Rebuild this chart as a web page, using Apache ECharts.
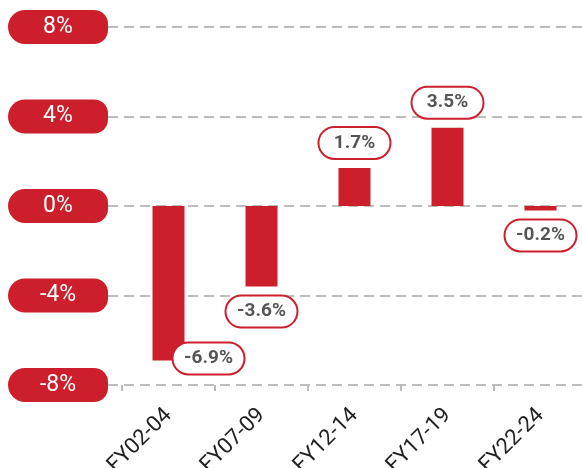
<!DOCTYPE html>
<html>
<head>
<meta charset="utf-8">
<script src="https://cdn.jsdelivr.net/npm/echarts@6/dist/echarts.min.js"></script>
<style>
  html, body { margin: 0; padding: 0; background: #fff; }
  #main { width: 582px; height: 468px; }
</style>
</head>
<body>
<div id="main"></div>
<script>
// data
var periods = ['FY02-04', 'FY07-09', 'FY12-14', 'FY17-19', 'FY22-24']
var growth = [-6.9, -3.6, 1.7, 3.5, -0.2]
var yTicks = [-8, -4, 0, 4, 8]

var red = '#cc1f2b'

var chart = echarts.init(document.getElementById('main'))

// value labels: pill with red border
var barData = growth.map(function (v, i) {
    var item = { value: v }
    if (i === 0) {
        // first label sits to the right of the bar end
        item.label = { position: 'bottom', offset: [40, -27] }
    }
    return item
})

var option = {
    animation: false,
    grid: [
        { left: 108, right: 0, top: 27, height: 358, outerBoundsMode: 'none' },
        { left: 122, width: 465, top: 27, height: 358, outerBoundsMode: 'none' }
    ],
    xAxis: [
        { type: 'category', gridIndex: 0, data: periods, show: false },
        {
            type: 'category',
            gridIndex: 1,
            data: periods,
            axisLine: { show: false, onZero: false },
            axisTick: { show: true, length: 6, lineStyle: { color: '#bbb', width: 2 } },
            axisLabel: {
                rotate: 45,
                margin: 27,
                color: '#222',
                fontSize: 22,
                fontFamily: 'Roboto'
            }
        }
    ],
    yAxis: [
        {
            type: 'value',
            gridIndex: 0,
            min: yTicks[0],
            max: yTicks[yTicks.length - 1],
            interval: 4,
            axisLine: { show: false },
            axisTick: { show: false },
            splitLine: { lineStyle: { color: '#bdbdbd', width: 2, type: [10, 6] } },
            axisLabel: {
                margin: 0,
                fontSize: 23,
                color: '#fff',
                formatter: '{a|{value}%}',
                rich: {
                    a: {
                        backgroundColor: red,
                        borderRadius: [17, 14, 14, 17],
                        width: 100,
                        height: 34,
                        lineHeight: 34,
                        align: 'center',
                        verticalAlign: 'middle',
                        color: '#fff',
                        fontSize: 23,
                        fontFamily: 'Roboto'
                    }
                }
            }
        },
        {
            type: 'value',
            gridIndex: 1,
            min: -8,
            max: 8,
            interval: 4,
            show: false,
            splitLine: { show: false }
        }
    ],
    series: [
        {
            type: 'bar',
            xAxisIndex: 1,
            yAxisIndex: 1,
            data: barData,
            barWidth: 32,
            itemStyle: { color: red },
            label: {
                show: true,
                position: 'outside',
                distance: 10,
                formatter: function (p) { return p.value + '%' },
                color: '#555',
                fontSize: 19,
                fontWeight: 'bold',
                fontFamily: 'Roboto',
                backgroundColor: '#fff',
                borderColor: red,
                borderWidth: 2,
                borderRadius: 17,
                width: 70,
                height: 30,
                lineHeight: 30,
                align: 'center',
                padding: [0, 0]
            }
        }
    ]
}

chart.setOption(option)
</script>
</body>
</html>
